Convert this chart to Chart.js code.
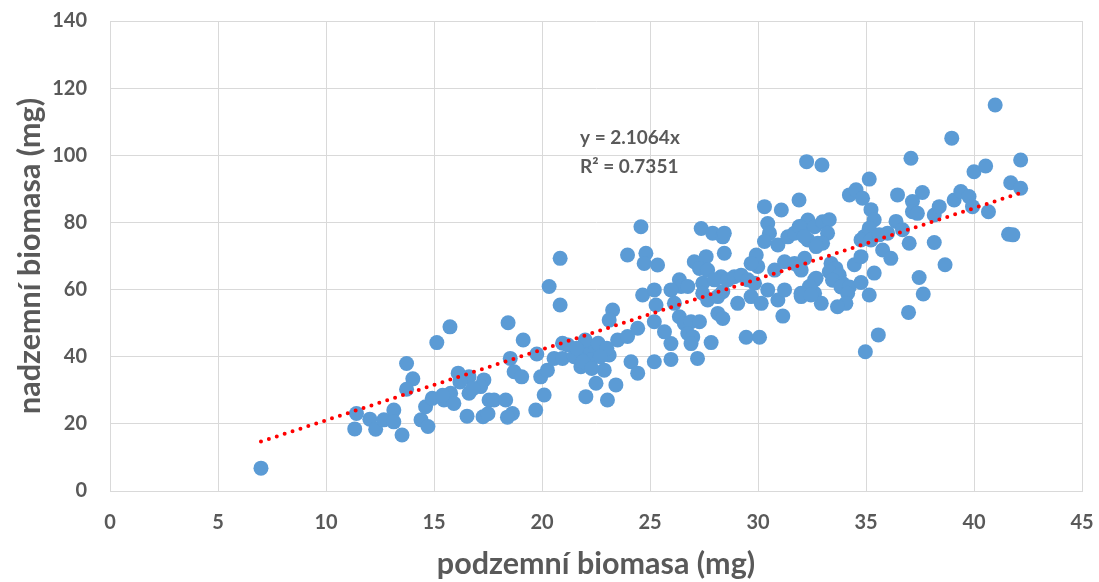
<!DOCTYPE html>
<html>
<head>
<meta charset="utf-8">
<script src="https://cdn.jsdelivr.net/npm/chart.js@4/dist/chart.umd.min.js"></script>
<style>
  html, body { margin: 0; padding: 0; background: #ffffff; }
  #wrap { width: 1099px; height: 582px; }
</style>
</head>
<body>
<div id="wrap"><canvas id="c" width="1099" height="582"></canvas></div>
<script>
// Below-ground biomass (mg), one entry per plant
const podzemni = [
  6.99, 15.74, 15.13, 13.73, 14.02, 13.73, 11.41, 11.33, 12.03, 12.3,
  12.68, 13.14, 13.14, 13.52, 14.4, 14.72, 14.61, 14.92, 15.46, 15.77,
  15.92, 16.12, 16.53, 16.62, 16.62, 17.31, 17.27, 17.16, 17.55, 16.2,
  16.8, 15.4,
  20.84, 20.33, 20.84, 18.43, 19.13, 19.76, 18.53, 18.71, 19.06, 17.78,
  18.32, 17.5, 18.63, 18.4, 19.71, 20.1, 19.94, 20.25, 20.95, 20.56,
  20.95, 21.8, 22.11, 22.5, 22.26, 21.8, 21.49, 23.11, 22.88, 22.5,
  22.03, 23.03, 23.42, 23.27, 23.11, 23.5, 23.96, 24.43, 24.12, 24.43,
  24.66, 23.96, 24.81, 24.73, 25.35, 25.2, 25.28, 25.2, 25.2, 21.2,
  22.0, 22.6, 21.9, 22.3, 21.6, 23.0, 22.7,
  30.3, 31.08, 31.9, 24.58, 27.37, 27.9, 28.37, 28.44, 30.45, 30.53,
  30.3, 30.92, 31.38, 31.69, 32.16, 32.31, 32.62, 32.31, 32.77, 27.05,
  27.6, 27.29, 27.67, 28.44, 26.36, 26.44, 26.75, 25.97, 27.44, 27.44,
  27.67, 28.14, 28.37, 28.29, 27.98, 28.6, 28.9, 29.22, 29.53, 29.84,
  29.99, 29.92, 29.68, 29.06, 29.68, 30.15, 30.45, 30.92, 31.23, 30.77,
  31.23, 31.69, 32.16, 32.0, 32.62, 32.62, 32.0, 32.93, 31.15, 29.45,
  30.07, 27.83, 28.14, 28.37, 26.13, 26.36, 26.59, 26.9, 27.29, 26.75,
  26.98, 26.9, 25.97, 25.67, 25.97, 27.2,
  38.97, 37.08, 32.25, 32.96, 40.0, 35.15, 34.23, 34.54, 34.84, 36.46,
  37.61, 37.15, 37.15, 37.38, 39.08, 39.39, 39.77, 39.93, 38.16, 38.39,
  35.23, 35.38, 35.15, 34.92, 34.77, 35.23, 35.61, 36.0, 36.39, 36.69,
  37.0, 35.77, 36.15, 31.91, 32.14, 32.99, 33.3, 33.22, 32.99, 32.69,
  38.16, 38.66, 31.91, 33.38, 33.61, 33.3, 33.76, 33.45, 33.92, 33.84,
  34.23, 34.15, 34.07, 33.68, 32.69, 32.38, 31.99, 32.45, 34.46, 34.77,
  34.77, 35.38, 35.15, 37.46, 37.65, 36.97, 35.57, 34.97,
  40.98, 42.16, 40.54, 41.7, 42.16, 40.67, 41.6, 41.8
];

// Above-ground biomass (mg), same plants in the same order
const nadzemni = [
  6.8, 48.9, 44.2, 38.0, 33.4, 30.3, 23.1, 18.5, 21.4, 18.4,
  21.2, 24.1, 20.6, 16.7, 21.2, 19.2, 25.1, 27.6, 27.1, 29.1,
  26.1, 35.1, 22.3, 34.0, 29.1, 33.1, 22.1, 31.1, 27.1, 32.5,
  30.5, 28.5,
  69.3, 60.9, 55.4, 50.1, 45.0, 40.8, 39.5, 35.5, 34.0, 27.1,
  27.1, 23.0, 23.1, 22.0, 24.1, 28.6, 34.0, 36.0, 44.0, 39.5,
  39.5, 41.0, 43.0, 42.0, 39.0, 37.0, 40.0, 40.5, 36.0, 32.1,
  28.1, 27.1, 31.6, 53.9, 50.9, 45.0, 46.0, 48.5, 38.5, 35.1,
  58.4, 70.3, 70.8, 67.8, 67.3, 59.9, 55.4, 50.4, 38.5, 43.5,
  45.0, 44.0, 38.5, 36.5, 42.5, 42.5, 40.0,
  84.7, 83.7, 86.7, 78.7, 78.2, 76.8, 75.7, 76.8, 79.7, 76.8,
  74.3, 73.3, 75.7, 76.8, 79.2, 80.7, 78.7, 74.8, 73.8, 68.3,
  69.8, 66.3, 65.8, 70.8, 62.9, 60.9, 60.9, 59.9, 61.9, 58.9,
  56.9, 57.9, 59.4, 63.8, 62.9, 62.9, 63.8, 64.3, 62.9, 61.9,
  66.9, 70.3, 67.8, 55.9, 57.9, 55.9, 59.9, 56.9, 59.9, 65.8,
  68.3, 67.8, 69.3, 65.8, 62.9, 58.9, 57.9, 55.9, 52.1, 45.8,
  45.8, 44.2, 52.9, 51.4, 55.9, 51.9, 49.9, 50.4, 50.4, 46.9,
  45.9, 43.9, 43.9, 47.4, 39.2, 39.5,
  105.1, 99.1, 98.1, 97.1, 95.1, 92.9, 88.2, 89.7, 87.2, 88.2,
  88.9, 86.2, 83.2, 82.7, 86.7, 89.2, 87.7, 84.7, 82.2, 84.7,
  83.8, 80.8, 78.3, 75.8, 74.8, 74.8, 76.3, 76.8, 80.3, 77.8,
  73.8, 71.8, 69.3, 78.8, 75.8, 80.2, 80.8, 76.8, 73.8, 72.8,
  74.0, 67.4, 66.8, 67.8, 66.3, 65.3, 64.3, 62.8, 61.8, 60.8,
  60.8, 58.9, 55.9, 54.9, 63.4, 60.9, 58.9, 58.4, 67.4, 69.8,
  62.1, 64.9, 58.4, 63.6, 58.7, 53.2, 46.5, 41.5,
  115.0, 98.6, 96.8, 91.8, 90.2, 83.2, 76.5, 76.3
];

// Linear trend through the origin and its fit statistic
const trendSlope = 2.1064;
const trendR2 = 0.7351;

// Axis ticks
const xTicks = [0, 5, 10, 15, 20, 25, 30, 35, 40, 45];
const yTicks = [0, 20, 40, 60, 80, 100, 120, 140];

const points = podzemni.map((x, i) => ({ x: x, y: nadzemni[i] }));
const xMin = Math.min(...podzemni);
const xMax = Math.max(...podzemni);
const trend = [
  { x: xMin, y: trendSlope * xMin },
  { x: xMax, y: trendSlope * xMax }
];

const FONT = 'Lato, "Open Sans", sans-serif';
const TEXT = '#595959';
const GRID = '#d9d9d9';

// Regression equation printed inside the plot
const equationLabel = {
  id: 'equationLabel',
  afterDatasetsDraw(chart) {
    const { ctx } = chart;
    ctx.save();
    ctx.font = 'bold 19px ' + FONT;
    ctx.fillStyle = TEXT;
    ctx.textAlign = 'left';
    ctx.textBaseline = 'middle';
    ctx.fillText('y = ' + trendSlope.toFixed(4) + 'x', 580, 138);
    ctx.fillText('R\u00B2 = ' + trendR2.toFixed(4), 580, 167);
    ctx.restore();
  }
};

new Chart(document.getElementById('c'), {
  type: 'scatter',
  data: {
    datasets: [
      {
        type: 'line',
        label: 'trend',
        data: trend,
        borderColor: '#ff0000',
        borderWidth: 4,
        borderDash: [0, 8.3],
        borderCapStyle: 'round',
        pointRadius: 0,
        fill: false,
        order: 0
      },
      {
        label: 'biomasa',
        data: points,
        backgroundColor: '#5b9bd5',
        borderColor: '#5b9bd5',
        borderWidth: 0,
        pointRadius: 7.5,
        pointHoverRadius: 7.5,
        order: 1
      }
    ]
  },
  options: {
    responsive: false,
    animation: false,
    events: [],
    layout: { padding: { top: 21, right: 17, left: 0, bottom: 0 } },
    plugins: {
      legend: { display: false },
      tooltip: { enabled: false }
    },
    scales: {
      x: {
        type: 'linear',
        min: 0,
        max: 45,
        afterBuildTicks(scale) { scale.ticks = xTicks.map(v => ({ value: v })); },
        afterFit(scale) {
          scale.height = 91;
          scale.paddingLeft = 0;
          scale.paddingRight = 0;
        },
        grid: { color: GRID, lineWidth: 1, drawTicks: false },
        border: { color: GRID, width: 1 },
        ticks: {
          padding: 20,
          color: TEXT,
          font: { family: FONT, size: 20, weight: 'bold' },
          maxRotation: 0
        },
        title: {
          display: true,
          text: 'podzemní biomasa (mg)',
          color: TEXT,
          font: { family: FONT, size: 30.5, weight: 'bold' },
          padding: { top: 0, bottom: 0 }
        }
      },
      y: {
        type: 'linear',
        min: 0,
        max: 140,
        afterBuildTicks(scale) { scale.ticks = yTicks.map(v => ({ value: v })); },
        afterFit(scale) {
          scale.width = 110;
          scale.paddingTop = 0;
          scale.paddingBottom = 0;
        },
        grid: { color: GRID, lineWidth: 1, drawTicks: false },
        border: { color: GRID, width: 1 },
        ticks: {
          padding: 23,
          color: TEXT,
          font: { family: FONT, size: 20, weight: 'bold' }
        },
        title: {
          display: true,
          text: 'nadzemní biomasa (mg)',
          color: TEXT,
          font: { family: FONT, size: 30.5, weight: 'bold' },
          padding: { top: 12, bottom: 0 }
        }
      }
    }
  },
  plugins: [equationLabel]
});
</script>
</body>
</html>
